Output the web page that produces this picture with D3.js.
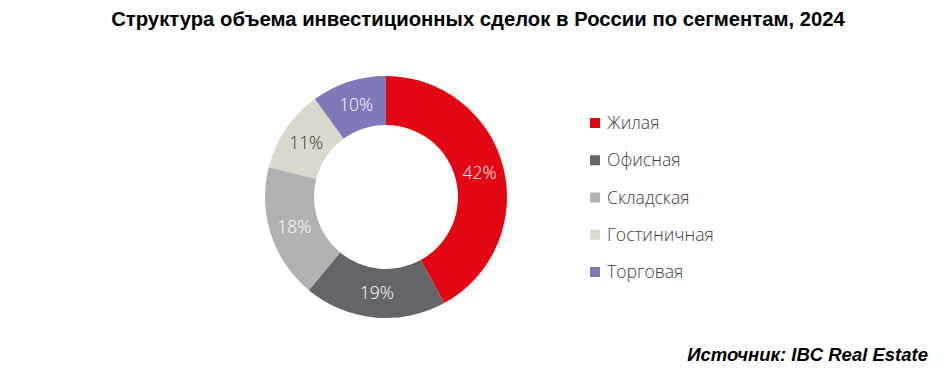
<!DOCTYPE html>
<html>
<head>
<meta charset="utf-8">
<script src="https://cdn.jsdelivr.net/npm/d3@7"></script>
<style>
  body { margin: 0; background: #fff; }
</style>
</head>
<body>
<div id="chart"></div>
<script>
// segments, shares (%) and colours, in drawing order (clockwise from 12 o'clock)
var segments = ["Жилая", "Офисная", "Складская", "Гостиничная", "Торговая"];
var shares = [42, 19, 18, 11, 10];
var colors = ["#e30613", "#636569", "#b1b2b4", "#ddd8cd", "#7f79b9"];
var labelColors = ["#fff", "#fff", "#fff", "#333", "#fff"];

var width = 944,
    height = 372;

var svg = d3.select("#chart")
    .append("svg")
    .attr("width", width)
    .attr("height", height);

// title
svg.append("text")
    .attr("x", 478)
    .attr("y", 26)
    .attr("text-anchor", "middle")
    .attr("font-family", "Liberation Sans, Arial, sans-serif")
    .attr("font-weight", "bold")
    .attr("font-size", "20.3px")
    .attr("fill", "#000")
    .text("Структура объема инвестиционных сделок в России по сегментам, 2024");

// donut
var cx = 386, cy = 197,
    outerR = 121, innerR = 72;

var pie = d3.pie().sort(null).value(function(d) { return d; });
var arc = d3.arc().innerRadius(innerR).outerRadius(outerR);
var labelArc = d3.arc().innerRadius((innerR + outerR) / 2).outerRadius((innerR + outerR) / 2);

var g = svg.append("g")
    .attr("transform", "translate(" + cx + "," + cy + ")");

var slices = g.selectAll(".slice")
    .data(pie(shares))
    .enter().append("g")
    .attr("class", "slice");

slices.append("path")
    .attr("d", arc)
    .attr("fill", function(d, i) { return colors[i]; });

slices.append("text")
    .attr("transform", function(d) { return "translate(" + labelArc.centroid(d) + ")"; })
    .attr("text-anchor", "middle")
    .attr("dy", "0.35em")
    .attr("font-family", "Open Sans, sans-serif")
    .attr("font-weight", 300)
    .attr("font-size", "17.5px")
    .attr("fill", function(d, i) { return labelColors[i]; })
    .text(function(d) { return d.data + "%"; });

// legend
var legendY = d3.scalePoint().domain(segments).range([123, 272]);

var legend = svg.selectAll(".legend")
    .data(segments)
    .enter().append("g")
    .attr("class", "legend")
    .attr("transform", function(d) { return "translate(590," + legendY(d) + ")"; });

legend.append("rect")
    .attr("x", 0)
    .attr("y", -5)
    .attr("width", 10)
    .attr("height", 10)
    .attr("fill", function(d, i) { return colors[i]; });

legend.append("text")
    .attr("x", 17)
    .attr("dy", "0.35em")
    .attr("font-family", "Open Sans, sans-serif")
    .attr("font-weight", 300)
    .attr("font-size", "17.6px")
    .attr("fill", "#404040")
    .text(function(d) { return d; });

// source
svg.append("text")
    .attr("x", 928)
    .attr("y", 361)
    .attr("text-anchor", "end")
    .attr("font-family", "Liberation Sans, Arial, sans-serif")
    .attr("font-weight", "bold")
    .attr("font-style", "italic")
    .attr("font-size", "18.5px")
    .attr("fill", "#000")
    .text("Источник: IBC Real Estate");
</script>
</body>
</html>
